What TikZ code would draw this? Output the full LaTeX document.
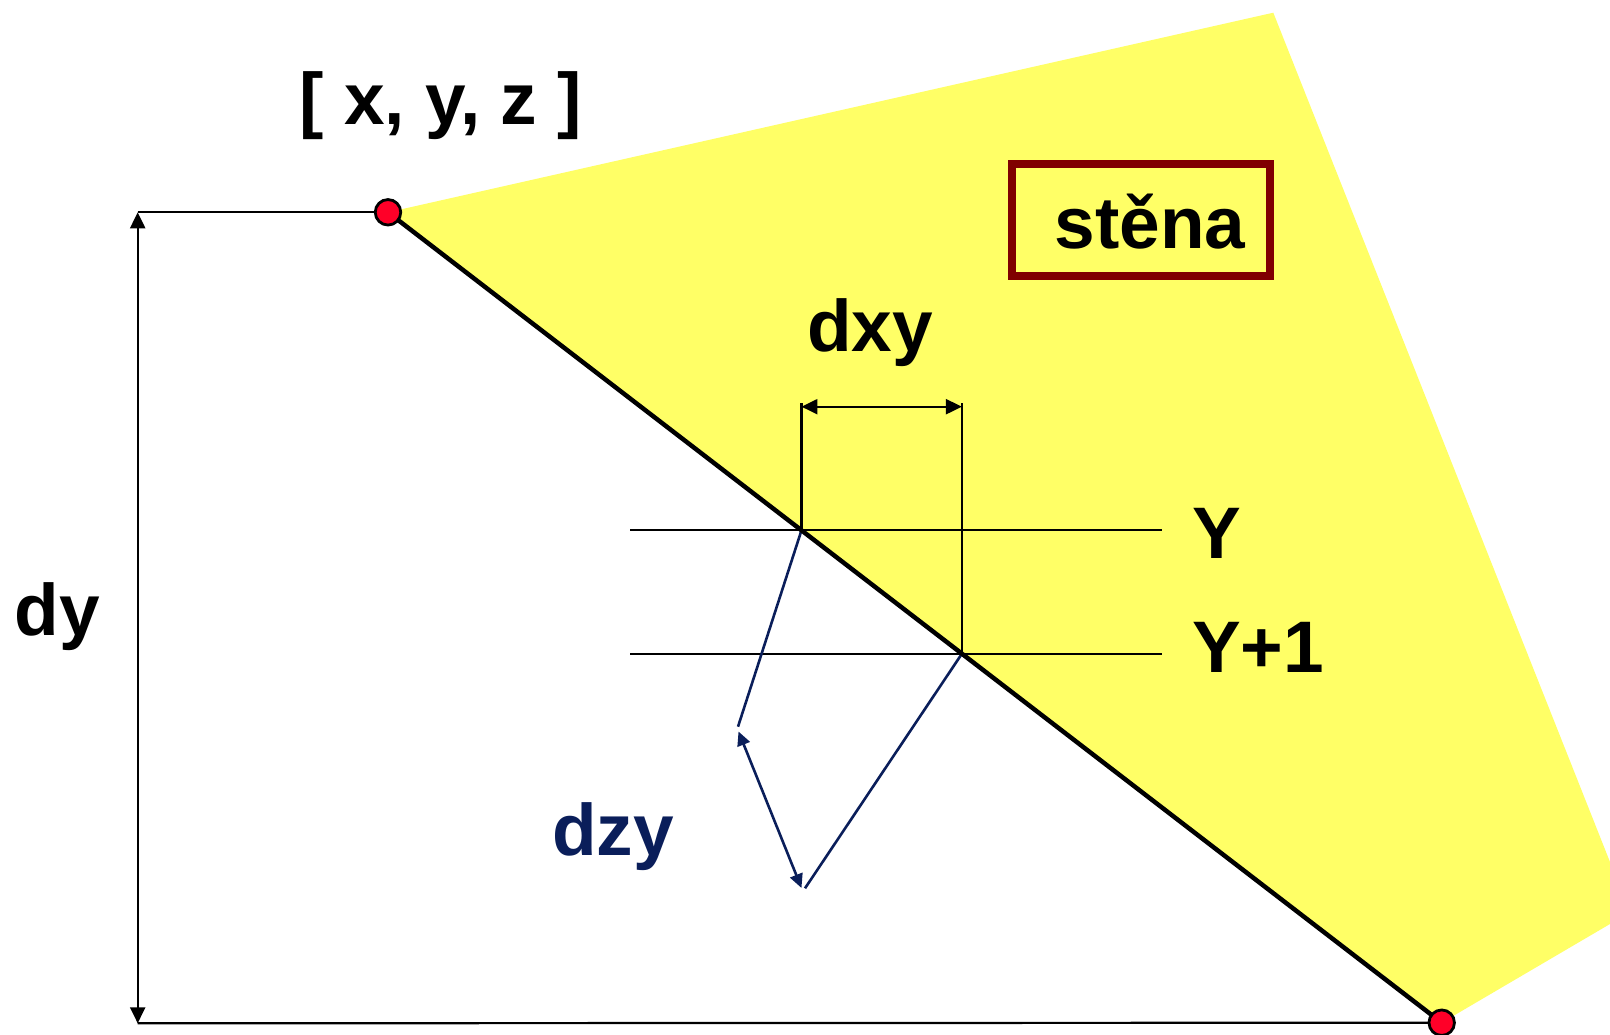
\documentclass[tikz,border=0pt]{standalone}
\usepackage{fontspec}
\setmainfont{Liberation Sans}
\usetikzlibrary{arrows.meta}
\definecolor{wallyellow}{RGB}{255,255,102}
\definecolor{navyblue}{RGB}{10,30,90}
\definecolor{boxred}{RGB}{128,0,0}
\definecolor{dotred}{RGB}{255,0,40}
\begin{document}
\begin{tikzpicture}[x=1pt,y=-1pt,
  dotnode/.style={circle,fill=dotred,draw=black,line width=2.8pt,minimum size=25.5pt,inner sep=0pt},
  thinline/.style={line width=2.2pt,black},
  dimarrow/.style={line width=2.2pt,{Triangle[length=16pt,width=15pt]}-{Triangle[length=16pt,width=15pt]}},
  navyline/.style={line width=2.6pt,navyblue},
  navyarrow/.style={line width=2.6pt,navyblue,{Triangle[length=14pt,width=13pt]}-{Triangle[length=14pt,width=13pt]}},
  lbl/.style={font=\fontsize{73}{80}\selectfont\bfseries,inner sep=0pt,anchor=base}
]
\useasboundingbox (0,0) rectangle (1610,1035);
% key points
\coordinate (c1) at (388,212.3);
\coordinate (c2) at (1441.7,1022.7);
\coordinate (w1) at (1273.3,12.7);
\coordinate (w2) at (1610,862);
\coordinate (w3) at (1610,924);
% wall
\fill[wallyellow] (c1) -- (w1) -- (w2) -- (w3) -- (c2) -- cycle;
% scan lines
\coordinate (yl) at (630,530.3);
\coordinate (yr) at (1162,530.3);
\coordinate (y1l) at (630,653.7);
\coordinate (y1r) at (1162,653.7);
\draw[thinline] (yl) -- (yr);
\draw[thinline] (y1l) -- (y1r);
\coordinate (A) at (intersection of c1--c2 and yl--yr);
\coordinate (B) at (intersection of c1--c2 and y1l--y1r);
% dxy
\coordinate (ext) at (0,403.3);
\coordinate (dxyh) at (0,406.7);
\draw[thinline] (A) -- (A |- ext);
\draw[thinline] (B) -- (B |- ext);
\draw[dimarrow] (A |- dxyh) -- (B |- dxyh);
% dy
\coordinate (dyt) at (137.7,212.3);
\coordinate (dyb) at (137.7,1023.3);
\draw[thinline] (dyt) -- (c1);
\draw[thinline] (dyb) -- (c2);
\draw[dimarrow] (dyt) -- (dyb);
% dzy
\coordinate (za) at (738,726.7);
\coordinate (zb) at (805,888.3);
\coordinate (zaa) at (738.5,731.5);
\coordinate (zbb) at (801.5,888);
\draw[navyline] (A) -- (za);
\draw[navyline] (B) -- (zb);
\draw[navyarrow] (zaa) -- (zbb);
% edge
\draw[line width=4.5pt] (c1) -- (c2);
\node[dotnode] (P1) at (c1) {};
\node[dotnode] (P2) at (c2) {};
% box
\draw[boxred,line width=8pt] (1011.5,164) rectangle (1270,276.5);
% labels
\node[lbl] (xyz) at (440.8,125) {[ x, y, z ]};
\node[lbl] (stena) at (1150,249) {stěna};
\node[lbl] (dxy) at (870,351.7) {dxy};
\node[lbl,anchor=base west] (Ylbl) at (1192,558) {Y};
\node[lbl,anchor=base west] (Y1lbl) at (1192,672.7) {Y+1};
\node[lbl] (dy) at (57,635) {dy};
\node[lbl,text=navyblue] (dzy) at (613,855) {dzy};
\end{tikzpicture}
\end{document}
